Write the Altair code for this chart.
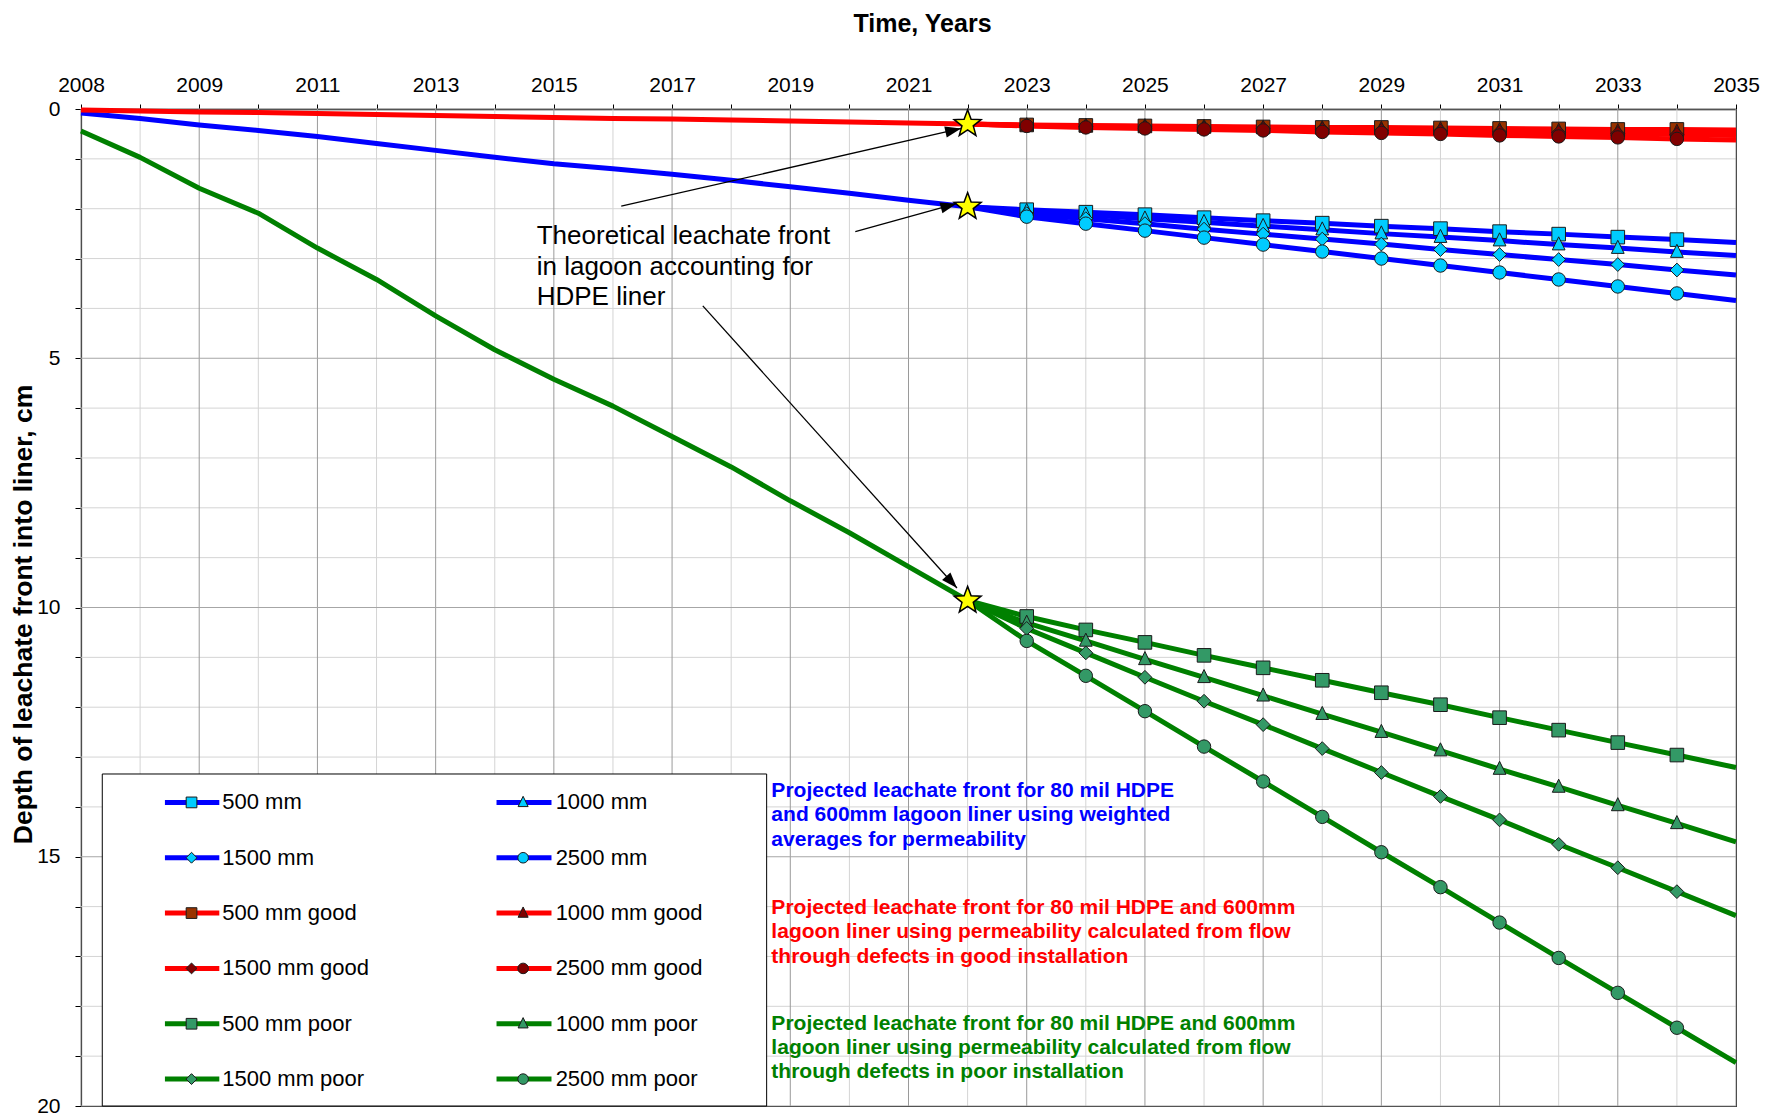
import math
import altair as alt
import pandas as pd

FONT = "Liberation Sans"

# ---------------- data ----------------
HIST_YEARS = list(range(2007, 2023))
RED_HIST = [0.02, 0.04, 0.06, 0.07, 0.09, 0.11, 0.13, 0.15, 0.17, 0.19, 0.20, 0.22, 0.24, 0.26, 0.28, 0.30]
BLUE_HIST = [0.08, 0.19, 0.32, 0.43, 0.55, 0.69, 0.83, 0.97, 1.10, 1.20, 1.31, 1.43, 1.56, 1.69, 1.83, 1.96]
GREEN_HIST = [0.44, 0.97, 1.59, 2.09, 2.79, 3.42, 4.15, 4.83, 5.42, 5.96, 6.57, 7.18, 7.86, 8.50, 9.18, 9.86]

PROJ_YEARS = list(range(2022, 2036))
BLUE_500 = [1.96, 2.02, 2.07, 2.12, 2.18, 2.24, 2.29, 2.35, 2.40, 2.46, 2.51, 2.57, 2.62, 2.68]
BLUE_1000 = [1.96, 2.05, 2.12, 2.20, 2.27, 2.35, 2.42, 2.50, 2.57, 2.64, 2.72, 2.79, 2.87, 2.94]
BLUE_1500 = [1.96, 2.10, 2.20, 2.30, 2.41, 2.51, 2.61, 2.71, 2.82, 2.92, 3.02, 3.12, 3.23, 3.33]
BLUE_2500 = [1.96, 2.16, 2.30, 2.44, 2.58, 2.72, 2.86, 3.00, 3.14, 3.28, 3.42, 3.56, 3.70, 3.84]
RED_500 = [0.30, 0.32, 0.33, 0.34, 0.35, 0.36, 0.37, 0.37, 0.38, 0.39, 0.40, 0.41, 0.41, 0.42]
RED_1000 = [0.30, 0.33, 0.34, 0.35, 0.36, 0.38, 0.39, 0.40, 0.41, 0.43, 0.44, 0.45, 0.46, 0.48]
RED_1500 = [0.30, 0.33, 0.35, 0.36, 0.38, 0.39, 0.41, 0.43, 0.44, 0.46, 0.47, 0.49, 0.51, 0.53]
RED_2500 = [0.30, 0.34, 0.37, 0.39, 0.41, 0.43, 0.46, 0.48, 0.50, 0.53, 0.55, 0.57, 0.60, 0.62]
GREEN_500 = [9.86, 10.18, 10.45, 10.70, 10.96, 11.21, 11.46, 11.71, 11.95, 12.21, 12.46, 12.71, 12.96, 13.21]
GREEN_1000 = [9.86, 10.31, 10.67, 11.04, 11.40, 11.77, 12.14, 12.50, 12.87, 13.24, 13.60, 13.97, 14.33, 14.70]
GREEN_1500 = [9.86, 10.42, 10.91, 11.40, 11.88, 12.35, 12.83, 13.31, 13.79, 14.26, 14.75, 15.22, 15.70, 16.18]
GREEN_2500 = [9.86, 10.67, 11.37, 12.08, 12.79, 13.49, 14.20, 14.91, 15.61, 16.32, 17.03, 17.73, 18.43, 19.13]

MARKER_YEARS = list(range(2023, 2035))

SERIES_NAMES = ["500 mm", "1000 mm", "1500 mm", "2500 mm",
                "500 mm good", "1000 mm good", "1500 mm good", "2500 mm good",
                "500 mm poor", "1000 mm poor", "1500 mm poor", "2500 mm poor"]
SERIES_GROUP = ["blue"] * 4 + ["red"] * 4 + ["green"] * 4
SERIES_VALUES = [BLUE_500, BLUE_1000, BLUE_1500, BLUE_2500,
                 RED_500, RED_1000, RED_1500, RED_2500,
                 GREEN_500, GREEN_1000, GREEN_1500, GREEN_2500]

X_TICK_POS = list(range(2007, 2036, 2))
X_TICK_LABELS = ["2008", "2009", "2011", "2013", "2015", "2017", "2019", "2021",
                 "2023", "2025", "2027", "2029", "2031", "2033", "2035"]
Y_TICKS = list(range(0, 21))

CALLOUT = "Theoretical leachate front\nin lagoon accounting for\nHDPE liner"
BLUE_NOTE = "Projected leachate front for 80 mil HDPE\nand 600mm lagoon liner using weighted\naverages for permeability"
RED_NOTE = "Projected leachate front for 80 mil HDPE and 600mm\nlagoon liner using permeability calculated from flow\nthrough defects in good installation"
GREEN_NOTE = "Projected leachate front for 80 mil HDPE and 600mm\nlagoon liner using permeability calculated from flow\nthrough defects in poor installation"

# arrows: (x0, y0) near the callout text -> (x1, y1) at a star
ARROWS = [(2016.14, 1.95, 2021.89, 0.39),
          (2020.10, 2.46, 2021.81, 1.90),
          (2017.52, 3.95, 2021.82, 9.61)]

# ---------------- styling ----------------
W, H = 1655, 997
X_MIN, X_MAX = 2007, 2035
Y_MIN, Y_MAX = 0, 20
PX_YR = W / (X_MAX - X_MIN)
PX_CM = H / (Y_MAX - Y_MIN)

GROUP_DOMAIN = ["blue", "red", "green"]
GROUP_RANGE = ["#0000FF", "#FF0000", "#008000"]

TRI = "M0,-1.1L0.9,0.75L-0.9,0.75Z"
SHAPE_BY_THICK = {"500": "square", "1000": TRI, "1500": "diamond", "2500": "circle"}
SIZE_BY_THICK = {"500": 185, "1000": 200, "1500": 190, "2500": 180}
FILL_BY_NAME = {}
for n, g in zip(SERIES_NAMES, SERIES_GROUP):
    if g == "blue":
        FILL_BY_NAME[n] = "#00CCFF"
    elif g == "red":
        FILL_BY_NAME[n] = "#993300" if n.startswith("500 ") else "#800000"
    else:
        FILL_BY_NAME[n] = "#339966"
SHAPE_RANGE = [SHAPE_BY_THICK[n.split()[0]] for n in SERIES_NAMES]
FILL_RANGE = [FILL_BY_NAME[n] for n in SERIES_NAMES]

star_pts = []
for k in range(10):
    a = math.radians(-90 + 36 * k)
    r = 1.0 if k % 2 == 0 else 0.42
    star_pts.append(f"{r * math.cos(a):.4f},{r * math.sin(a):.4f}")
STAR = "M" + "L".join(star_pts) + "Z"
ARROWHEAD = "M0,0L-0.7,2L0.7,2Z"

XS = alt.Scale(domain=[X_MIN, X_MAX], nice=False, zero=False)
YS = alt.Scale(domain=[Y_MIN, Y_MAX], reverse=True, nice=False)
COLOR = alt.Color("group:N", scale=alt.Scale(domain=GROUP_DOMAIN, range=GROUP_RANGE), legend=None)
SHAPE = alt.Shape("series:N", scale=alt.Scale(domain=SERIES_NAMES, range=SHAPE_RANGE), legend=None)
FILL = alt.Fill("series:N", scale=alt.Scale(domain=SERIES_NAMES, range=FILL_RANGE), legend=None)

all_years = list(range(X_MIN, X_MAX + 1))
label_expr = "".join(f"datum.value == {p} ? '{l}' : " for p, l in zip(X_TICK_POS, X_TICK_LABELS)) + "''"

X_AXIS = alt.Axis(orient="top", values=all_years, labelExpr=label_expr, grid=False,
                  tickSize=5, tickColor="black", domainColor="black", domainWidth=1.5,
                  labelFont=FONT, labelFontSize=21, labelColor="black", labelPadding=9,
                  labelFlush=False, labelOverlap=False,
                  title="Time, Years", titleFont=FONT, titleFontSize=25, titleFontWeight="bold",
                  titleColor="black", titleX=841, titleY=-86, titleBaseline="middle", titleAlign="center")
Y_AXIS = alt.Axis(orient="left", values=Y_TICKS, labelExpr="datum.value % 5 == 0 ? datum.label : ''",
                  grid=False, tickSize=6, tickColor="black", domainColor="black", domainWidth=1.2,
                  labelFont=FONT, labelFontSize=21, labelColor="black", labelPadding=15,
                  labelFlush=False, labelOverlap=False,
                  title="Depth of leachate front into liner, cm", titleFont=FONT, titleFontSize=26.5,
                  titleFontWeight="bold", titleColor="black", titleX=-58, titleY=505,
                  titleAngle=270, titleBaseline="middle", titleAlign="center")


def X(field):
    return alt.X(field, scale=XS, axis=X_AXIS)


def Y(field):
    return alt.Y(field, scale=YS, axis=Y_AXIS)


# ---------------- tables ----------------
line_rows = []
for g, vals in zip(GROUP_DOMAIN, [BLUE_HIST, RED_HIST, GREEN_HIST]):
    for yr, v in zip(HIST_YEARS, vals):
        line_rows.append({"lid": "hist " + g, "group": g, "year": yr, "depth": v})
marker_rows = []
for n, g, vals in zip(SERIES_NAMES, SERIES_GROUP, SERIES_VALUES):
    for yr, v in zip(PROJ_YEARS, vals):
        line_rows.append({"lid": n, "group": g, "year": yr, "depth": v})
        if yr in MARKER_YEARS:
            marker_rows.append({"series": n, "group": g, "year": yr, "depth": v,
                                "msize": SIZE_BY_THICK[n.split()[0]]})
lines_df = pd.DataFrame(line_rows)
markers_df = pd.DataFrame(marker_rows)

stars_df = pd.DataFrame({"year": [HIST_YEARS[-1]] * 3,
                         "depth": [RED_HIST[-1], BLUE_HIST[-1], GREEN_HIST[-1]]})

shaft_rows, head_rows = [], []
for i, (x0, y0, x1, y1) in enumerate(ARROWS):
    shaft_rows += [{"aid": i, "o": 0, "x": x0, "y": y0}, {"aid": i, "o": 1, "x": x1, "y": y1}]
    dx = (x1 - x0) * PX_YR
    dy = (y1 - y0) * PX_CM
    head_rows.append({"x": x1, "y": y1, "ang": math.degrees(math.atan2(dx, -dy)) % 360})
shafts_df = pd.DataFrame(shaft_rows)
heads_df = pd.DataFrame(head_rows)

# legend layout (data units)
LEG_COLS = [(2008.42, 2009.34, 2008.87, 2009.39), (2014.03, 2014.96, 2014.48, 2015.03)]
LEG_ROW0, LEG_DY = 13.91, 1.11
leg_rows = []
for i, (n, g) in enumerate(zip(SERIES_NAMES, SERIES_GROUP)):
    c = LEG_COLS[i % 2]
    leg_rows.append({"series": n, "group": g, "label": n, "x1": c[0], "x2": c[1], "xm": c[2],
                     "xt": c[3], "y": LEG_ROW0 + LEG_DY * (i // 2),
                     "msize": SIZE_BY_THICK[n.split()[0]] * 0.62})
leg_df = pd.DataFrame(leg_rows)
box_df = pd.DataFrame({"x": [2007.36], "x2": [2018.6], "y": [13.34], "y2": [20.0]})

# ---------------- layers ----------------
def vgrid(vals, color):
    return alt.Chart(pd.DataFrame({"g": vals})).mark_rule(color=color, strokeWidth=1).encode(x=X("g:Q"))


def hgrid(vals, color):
    return alt.Chart(pd.DataFrame({"g": vals})).mark_rule(color=color, strokeWidth=1).encode(y=Y("g:Q"))


grid_layers = [
    vgrid([y for y in all_years if y not in X_TICK_POS], "#d4d4d4"),
    hgrid([v for v in Y_TICKS if v % 5 != 0], "#d4d4d4"),
    vgrid(X_TICK_POS, "#9a9a9a"),
    hgrid([v for v in Y_TICKS if v % 5 == 0], "#a6a6a6"),
]

box = alt.Chart(box_df).mark_rect(fill="white", stroke="black", strokeWidth=1).encode(
    x=X("x:Q"), x2="x2:Q", y=Y("y:Q"), y2="y2:Q")

lines = alt.Chart(lines_df).mark_line(strokeWidth=5, strokeJoin="round").encode(
    x=X("year:Q"), y=Y("depth:Q"), color=COLOR, detail="lid:N", order="year:Q")

markers = alt.Chart(markers_df).mark_point(filled=True, opacity=1, stroke="#1a1a1a", strokeWidth=1).encode(
    x=X("year:Q"), y=Y("depth:Q"), shape=SHAPE, fill=FILL,
    size=alt.Size("msize:Q", scale=None, legend=None))

stars = alt.Chart(stars_df).mark_point(shape=STAR, size=800, filled=True, fill="#FFFF00", opacity=1,
                                       stroke="black", strokeWidth=1.5).encode(
    x=X("year:Q"), y=Y("depth:Q"))

shafts = alt.Chart(shafts_df).mark_line(color="black", strokeWidth=1.3).encode(
    x=X("x:Q"), y=Y("y:Q"), detail="aid:N", order="o:Q")
heads = alt.Chart(heads_df).mark_point(shape=ARROWHEAD, size=256, filled=True, color="black", opacity=1).encode(
    x=X("x:Q"), y=Y("y:Q"), angle=alt.Angle("ang:Q", scale=None))

leg_lines = alt.Chart(leg_df).mark_rule(strokeWidth=5).encode(
    x=X("x1:Q"), x2="x2:Q", y=Y("y:Q"), color=COLOR)
leg_marks = alt.Chart(leg_df).mark_point(filled=True, opacity=1, stroke="#1a1a1a", strokeWidth=1).encode(
    x=X("xm:Q"), y=Y("y:Q"), shape=SHAPE, fill=FILL, size=alt.Size("msize:Q", scale=None, legend=None))
leg_text = alt.Chart(leg_df).mark_text(align="left", baseline="middle", font=FONT, fontSize=22,
                                       color="black").encode(
    x=X("xt:Q"), y=Y("y:Q"), text="label:N")


def note(text, x, y_first, color, size, weight, lh):
    df = pd.DataFrame({"x": [x], "y": [y_first], "t": [text]})
    return alt.Chart(df).mark_text(align="left", baseline="middle", font=FONT, fontSize=size,
                                   fontWeight=weight, color=color, lineBreak="\n", lineHeight=lh).encode(
        x=X("x:Q"), y=Y("y:Q"), text="t:N")


notes = [
    note(CALLOUT, 2014.71, 2.55, "black", 26, "normal", 30.5),
    note(BLUE_NOTE, 2018.68, 13.68, "#0000FF", 21, "bold", 24.3),
    note(RED_NOTE, 2018.68, 16.03, "#FF0000", 21, "bold", 24.3),
    note(GREEN_NOTE, 2018.68, 18.35, "#008000", 21, "bold", 24.3),
]

chart = alt.layer(*grid_layers, box, lines, markers, stars, shafts, heads,
                  leg_lines, leg_marks, leg_text, *notes).properties(
    width=W, height=H,
    padding={"left": 73, "top": 101, "right": 26, "bottom": 11},
    autosize=alt.AutoSizeParams(type="none"),
    background="white",
).configure_view(stroke="black", strokeWidth=1)

chart.save("out.html", embed_options={"renderer": "svg", "actions": False})
